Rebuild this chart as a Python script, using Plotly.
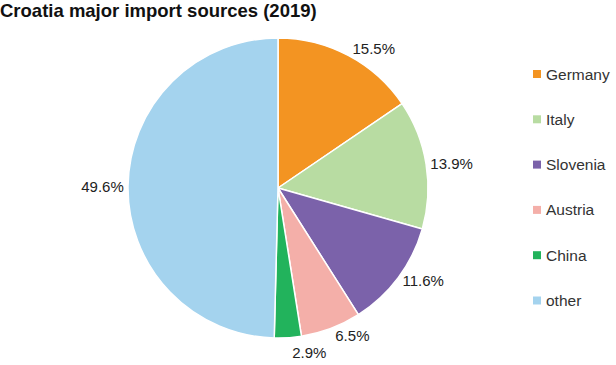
import plotly.graph_objects as go

categories = ["Germany", "Italy", "Slovenia", "Austria", "China", "other"]
shares = [15.5, 13.9, 11.6, 6.5, 2.9, 49.6]
colors = ["#F39422", "#B8DCA2", "#7B62AA", "#F4AFA9", "#22B35C", "#A4D3EE"]

W, H = 616, 365
FONT = "Liberation Sans, Arial"
fig = go.Figure()
fig.add_trace(go.Pie(
    labels=categories, values=shares, sort=False, direction="clockwise", rotation=0,
    marker=dict(colors=colors, line=dict(color="white", width=1.5)),
    texttemplate="%{value:.1f}%", textposition="outside",
    textfont=dict(family=FONT, size=15, color="#222"),
    showlegend=False, hoverinfo="label+value",
    domain=dict(x=[128 / W, 428 / W], y=[(H - 338) / H, (H - 38) / H]),
))

legend_y0 = 74
legend_step = 45.3
for i, (cat, col) in enumerate(zip(categories, colors)):
    yc = legend_y0 + i * legend_step
    fig.add_shape(type="rect", xref="paper", yref="paper",
                  x0=533 / W, x1=541 / W, y0=(H - yc - 4) / H, y1=(H - yc + 4) / H,
                  fillcolor=col, line=dict(width=0))
    fig.add_annotation(x=544 / W, y=(H - yc) / H, xref="paper", yref="paper",
                       text=cat, showarrow=False, xanchor="left", yanchor="middle",
                       font=dict(family=FONT, size=15.5, color="#333"))

fig.update_layout(
    width=W, height=H, margin=dict(l=0, r=0, t=0, b=0),
    paper_bgcolor="white", plot_bgcolor="white",
    title=dict(text="<b>Croatia major import sources (2019)</b>", x=0, xref="paper",
               xanchor="left", y=(H - 11) / H, yanchor="middle",
               font=dict(family=FONT, size=18.5, color="#111")),
)
post = ("document.body.style.margin='0';"
        "document.querySelectorAll('.textline').forEach(function(e){e.style.display='none';});")
fig.write_html("out.html", post_script=post, config={"displayModeBar": False})
